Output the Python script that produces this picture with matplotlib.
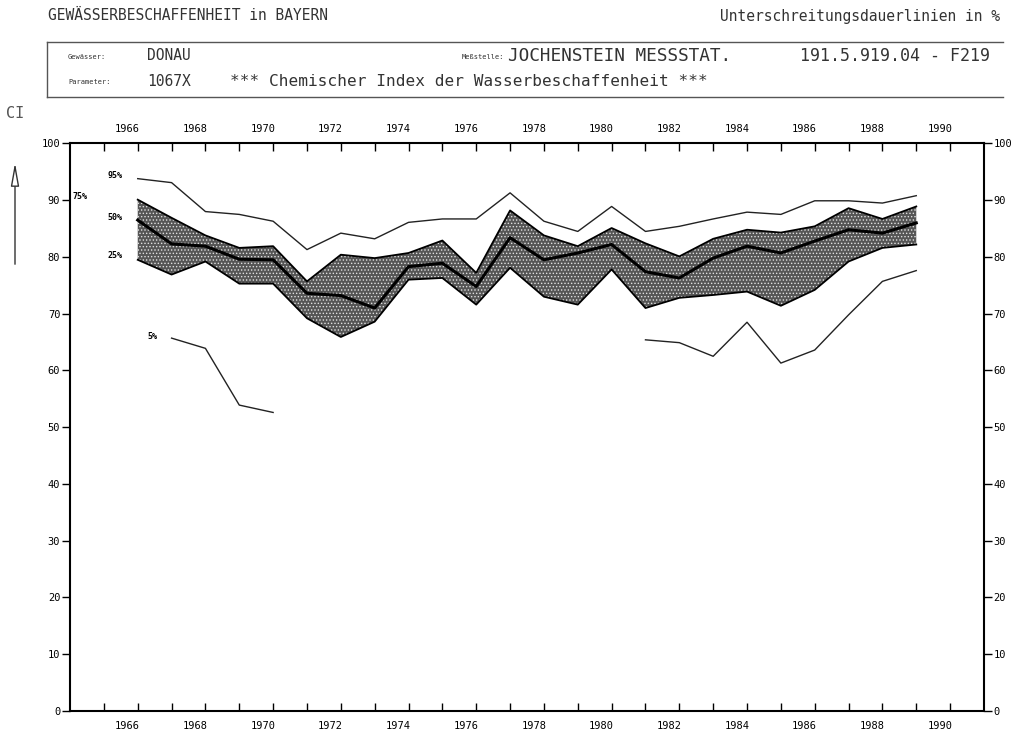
import numpy as np
import matplotlib
matplotlib.use("Agg")
import matplotlib.pyplot as plt
from matplotlib.lines import Line2D

years = list(range(1966, 1990))
p95 = [93.8, 93.1, 88.0, 87.5, 86.3, 81.3, 84.2, 83.2, 86.1, 86.7, 86.7, 91.3,
       86.3, 84.5, 88.9, 84.5, 85.4, 86.7, 87.9, 87.5, 89.9, 89.9, 89.5, 90.8]
p75 = [90.1, 86.9, 83.8, 81.6, 81.9, 75.7, 80.4, 79.8, 80.7, 82.9, 77.2, 88.2,
       83.8, 81.9, 85.1, 82.4, 80.1, 83.2, 84.8, 84.3, 85.4, 88.6, 86.7, 88.9]
p50 = [86.5, 82.3, 81.9, 79.6, 79.5, 73.6, 73.2, 71.0, 78.3, 78.9, 74.8, 83.4,
       79.5, 80.7, 82.2, 77.4, 76.3, 79.8, 81.9, 80.7, 82.8, 84.8, 84.2, 86.0]
p25 = [79.5, 76.9, 79.2, 75.3, 75.3, 69.2, 65.9, 68.6, 76.0, 76.3, 71.6, 78.1,
       73.0, 71.6, 77.8, 71.0, 72.8, 73.3, 73.9, 71.4, 74.2, 79.2, 81.6, 82.2]
nan = np.nan
p5 = [nan, 65.7, 63.9, 53.9, 52.6, nan, nan, nan, nan, nan, nan, nan,
      nan, nan, nan, 65.4, 64.9, 62.5, 68.5, 61.3, 63.6, 69.8, 75.7, 77.6]

year_ticks = list(range(1965, 1991))
year_labels = list(range(1966, 1991, 2))
y_ticks = list(range(0, 101, 10))

plt.rcParams['font.family'] = ['DejaVu Sans Mono', 'DejaVu Sans']
plt.rcParams['hatch.linewidth'] = 0.6

fig = plt.figure(figsize=(10.12, 7.35), dpi=100)
ax = fig.add_axes([0.0692, 0.0327, 0.9031, 0.7721])

x = np.array(years)
ax.fill_between(x, p25, p75, facecolor='#555555', edgecolor='#e0e0e0',
                hatch='.....', linewidth=0, zorder=1)
ax.plot(x, p75, color='black', lw=1.3, zorder=3)
ax.plot(x, p25, color='black', lw=1.3, zorder=3)
ax.plot(x, p50, color='black', lw=2.2, zorder=4)
ax.plot(x, p95, color='#222222', lw=1.0, zorder=3)
ax.plot(x, p5, color='#222222', lw=1.0, zorder=3)

ax.set_xlim(1964, 1991)
ax.set_ylim(0, 100)

ax.set_xticks(year_ticks, minor=True)
ax.set_xticks([yy - 0.3 for yy in year_labels])
ax.set_xticklabels([str(yy) for yy in year_labels])
ax.tick_params(axis='x', which='minor', direction='in', length=6, width=1,
               top=True, bottom=True)
ax.tick_params(axis='x', which='major', length=0, top=True, bottom=True,
               labeltop=True, labelbottom=True, labelsize=7.5, pad=7)

ax.set_yticks(y_ticks)
ax.set_yticklabels([str(v) for v in y_ticks])
ax.tick_params(axis='y', which='major', direction='out', length=6, width=1,
               left=True, right=True, labelleft=True, labelright=True,
               labelsize=7.5, pad=1)

for s in ax.spines.values():
    s.set_linewidth(1.5)

lab_kw = dict(fontsize=6, fontweight='bold', va='center', zorder=5)
ax.text(1965.34, 94.3, "95%", ha='center', **lab_kw)
ax.text(1965.34, 86.9, "50%", ha='center', **lab_kw)
ax.text(1965.34, 80.2, "25%", ha='center', **lab_kw)
ax.text(1964.08, 90.6, "75%", ha='left', **lab_kw)
ax.text(1966.43, 65.9, "5%", ha='center', **lab_kw)


def fx(px):
    return px / 1012.0


def fy(py):
    return 1 - py / 735.0


hdr = dict(color='#333333', va='center')
fig.text(fx(48), fy(16), "GEWÄSSERBESCHAFFENHEIT in BAYERN", ha='left', fontsize=10.5, **hdr)
fig.text(fx(1000), fy(16), "Unterschreitungsdauerlinien in %", ha='right', fontsize=10.5, **hdr)

box_col = '#555555'
fig.add_artist(Line2D([fx(47), fx(1003)], [fy(42), fy(42)], color=box_col, lw=1.0))
fig.add_artist(Line2D([fx(47), fx(1003)], [fy(97), fy(97)], color=box_col, lw=1.0))
fig.add_artist(Line2D([fx(47), fx(47)], [fy(42), fy(97)], color=box_col, lw=1.0))

fig.text(fx(68), fy(57), "Gewässer:", ha='left', fontsize=5, **hdr)
fig.text(fx(68), fy(82), "Parameter:", ha='left', fontsize=5, **hdr)
fig.text(fx(462), fy(57), "Meßstelle:", ha='left', fontsize=5, **hdr)
fig.text(fx(147), fy(56), "DONAU", ha='left', fontsize=10.5, **hdr)
fig.text(fx(147), fy(81), "1067X", ha='left', fontsize=10.5, **hdr)
fig.text(fx(230), fy(82), "*** Chemischer Index der Wasserbeschaffenheit ***",
         ha='left', fontsize=11.6, **hdr)
fig.text(fx(508), fy(56), "JOCHENSTEIN MESSSTAT.", ha='left', fontsize=12.8, **hdr)
fig.text(fx(990), fy(56), "191.5.919.04 - F219", ha='right', fontsize=12, **hdr)

fig.text(fx(15), fy(114), "CI", ha='center', fontsize=11, color='#555555', va='center')
fig.add_artist(matplotlib.patches.FancyArrowPatch(
    (fx(15), fy(267)), (fx(15), fy(160)), transform=fig.transFigure,
    arrowstyle='-|>,head_width=2.5,head_length=14', facecolor='white',
    edgecolor='#333333', lw=1.0, mutation_scale=1))

fig.savefig("out.png", dpi=100)
